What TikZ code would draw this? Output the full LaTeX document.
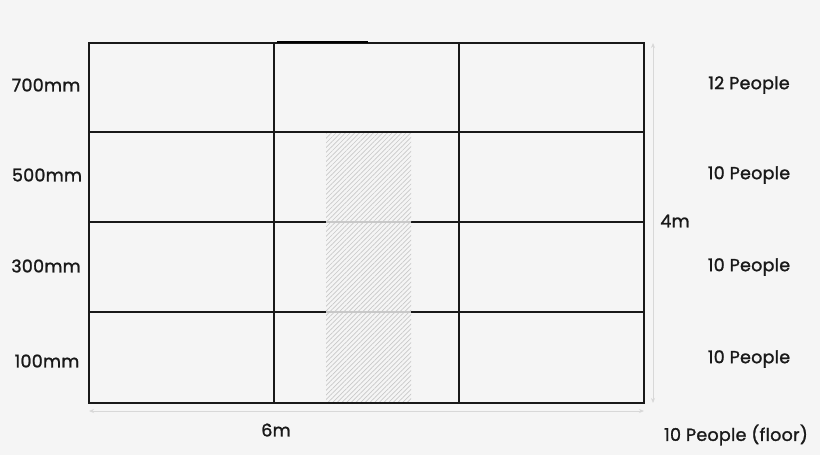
\documentclass[tikz,border=0pt]{standalone}
\usepackage{fontspec}
\setmainfont{Poppins}[FakeBold=1.3,UprightFeatures={FakeBold=1.3},LetterSpace=1.5]
\usetikzlibrary{patterns.meta,arrows.meta}
\definecolor{bg}{HTML}{F5F5F5}
\definecolor{dimgray}{HTML}{D8D8D8}
\definecolor{hatchgray}{HTML}{C8C8C8}
\tikzset{
  wall/.style={line width=2pt, black!90},
  dimline/.style={line width=0.9pt, dimgray, {Stealth[length=5pt,width=4pt]}-{Stealth[length=5pt,width=4pt]}},
  lbl/.style={font=\fontsize{17.5}{20}\selectfont, text=black!90, inner sep=0pt},
}
\begin{document}
\begin{tikzpicture}[x=1pt,y=-1pt]
\fill[bg] (0,0) rectangle (820,455);
\useasboundingbox (0,0) rectangle (820,455);
% grid
\draw[wall] (89,43) rectangle (644,403);
\draw[wall] (274,43) -- (274,403);
\draw[wall] (459,43) -- (459,403);
\draw[wall] (89,132) -- (644,132);
\draw[wall] (89,222) -- (644,222);
\draw[wall] (89,312) -- (644,312);
\draw[line width=2.5pt, black] (277,42) -- (368,42);
% hatched strip
\fill[bg, opacity=0.8] (326,133.5) rectangle (411,401.8);
\fill[pattern={Lines[angle=45,distance=3.3pt,line width=0.7pt]}, pattern color=hatchgray] (326,133.5) rectangle (411,401.8);
% dimension lines
\coordinate (vt) at (653,43);
\coordinate (vb) at (653,403);
\coordinate (hl) at (89,411);
\coordinate (hr) at (644,411);
\draw[dimline] (vt) -- (vb);
\draw[dimline] (hl) -- (hr);
% labels
\node[lbl] (l700) at (46,85) {700mm};
\node[lbl] (l500) at (47,175) {500mm};
\node[lbl] (l300) at (46,266) {300mm};
\node[lbl] (l100) at (47,361) {100mm};
\node[lbl] (p12) at (749,85) {12 People};
\node[lbl] (p10a) at (749,175) {10 People};
\node[lbl] (p10b) at (749,267) {10 People};
\node[lbl] (p10c) at (749,359) {10 People};
\node[lbl] (pfl) at (736,435) {10 People (floor)};
\node[lbl] (d4) at (675,221) {4m};
\node[lbl] (d6) at (276,430) {6m};
\end{tikzpicture}
\end{document}
